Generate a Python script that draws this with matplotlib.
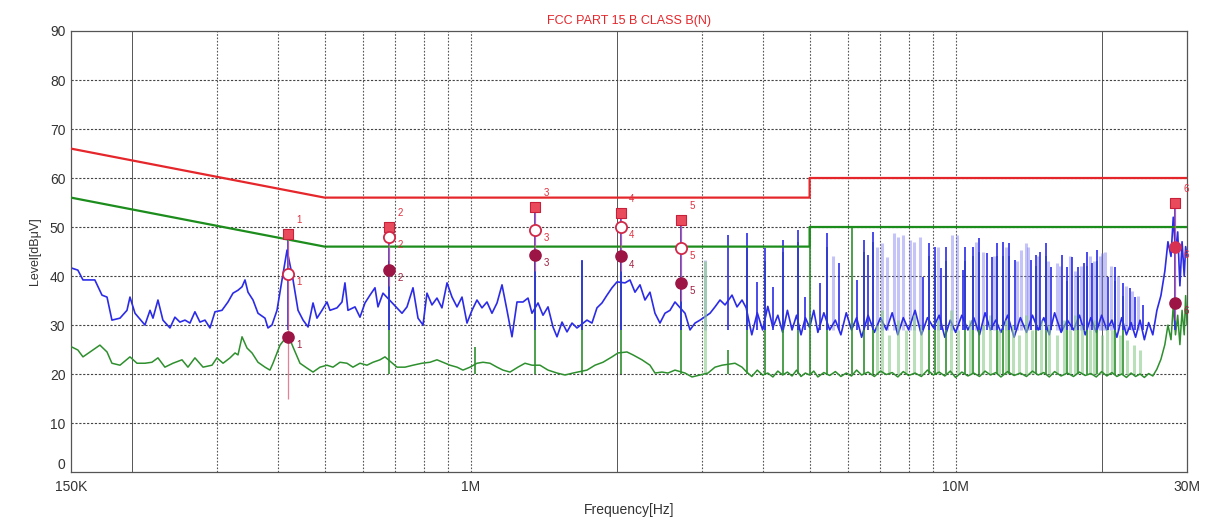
import matplotlib
matplotlib.use('Agg')
import matplotlib.pyplot as plt

plt.rcParams['font.family'] = ['Liberation Sans', 'DejaVu Sans']

# limit lines (MHz, dBuV)
qp_lim_f = [0.15, 0.5, 5.0, 5.0, 30.0]
qp_lim_v = [66, 56, 56, 60, 60]
av_lim_f = [0.15, 0.5, 5.0, 5.0, 30.0]
av_lim_v = [56, 46, 46, 50, 50]

# peak trace (blue)
peak_f = [0.1507, 0.155, 0.1588, 0.168, 0.1738, 0.178, 0.1822, 0.1893, 0.1957, 0.1985,
          0.2033, 0.2131, 0.2183, 0.2214, 0.2267, 0.2321, 0.24, 0.2457, 0.2516, 0.2577,
          0.2639, 0.2702, 0.2767, 0.2834, 0.2902, 0.2972, 0.3072, 0.3161, 0.3237, 0.3315,
          0.3379, 0.3427, 0.3476, 0.356, 0.3645, 0.3768, 0.3822, 0.3895, 0.3989, 0.4085,
          0.4184, 0.4305, 0.4408, 0.4515, 0.4623, 0.4733, 0.4823, 0.4939, 0.5057, 0.513,
          0.5304, 0.5431, 0.5508, 0.5587, 0.5777, 0.5915, 0.6057, 0.6203, 0.6352, 0.6443,
          0.6598, 0.7052, 0.7221, 0.7394, 0.7608, 0.7791, 0.7978, 0.813, 0.8325, 0.8525,
          0.8729, 0.8942, 0.9156, 0.9376, 0.9601, 0.9831, 1.0067, 1.0308, 1.0556, 1.0809,
          1.1068, 1.1337, 1.1609, 1.1887, 1.2172, 1.2465, 1.2826, 1.3134, 1.3384, 1.3773,
          1.4103, 1.4442, 1.4788, 1.5072, 1.5435, 1.5805, 1.6184, 1.6572, 1.7377, 1.7793,
          1.822, 1.8657, 1.911, 1.9569, 2.0038, 2.0815, 2.1314, 2.1825, 2.2349, 2.2885,
          2.3434, 2.3997, 2.4573, 2.5163, 2.5771, 2.639, 2.7675, 2.834, 2.902, 2.9718,
          3.1161, 3.191, 3.2675, 3.3467, 3.4595, 3.5426, 3.6275,
          3.7, 3.8, 3.9, 4.0, 4.1, 4.2, 4.3, 4.4, 4.5, 4.6,
          4.7, 4.8, 4.9, 5.0, 5.1, 5.2, 5.35, 5.5, 5.65, 5.8,
          5.95, 6.1, 6.25, 6.4, 6.6, 6.8, 7.0, 7.2, 7.4, 7.6,
          7.8, 8.0, 8.25, 8.5, 8.75, 9.0, 9.25, 9.5, 9.75, 10.0,
          10.3, 10.6, 10.9, 11.2, 11.5, 11.8, 12.1, 12.4, 12.8, 13.2,
          13.6, 14.0, 14.4, 14.8, 15.2, 15.6, 16.0, 16.5, 17.0, 17.5,
          18.0, 18.5, 19.0, 19.5, 20.0, 20.5, 21.0, 21.5, 22.0, 22.5,
          23.0, 23.5, 24.0, 24.5, 25.0, 25.5, 26.0, 26.5, 27.0, 27.4,
          27.8, 28.1, 28.4, 28.7, 29.0, 29.3, 29.6, 29.8, 30.0]
peak_v = [41.6, 41.2, 39.2, 39.2, 36.1, 35.7, 31.0, 31.4, 33.0, 35.7,
          32.4, 30.0, 33.0, 31.4, 35.1, 31.0, 29.4, 31.6, 30.6, 31.0,
          30.4, 32.7, 30.6, 31.0, 29.4, 32.7, 33.0, 34.7, 36.5, 37.1,
          37.8, 39.2, 36.7, 35.1, 32.4, 31.4, 29.4, 30.0, 33.0, 39.2,
          45.3, 39.2, 33.0, 31.0, 29.6, 34.5, 31.4, 33.0, 34.7, 33.0,
          33.5, 34.7, 38.6, 33.0, 33.7, 31.6, 34.5, 36.1, 37.6, 33.7,
          36.5, 33.5, 32.4, 33.7, 37.6, 31.4, 30.0, 36.5, 34.1, 35.5,
          33.5, 38.6, 35.7, 33.7, 35.7, 30.4, 33.0, 35.1, 33.5, 34.7,
          32.4, 34.5, 38.2, 33.0, 27.6, 34.7, 34.7, 35.5, 32.4, 34.5,
          32.0, 33.7, 29.6, 27.6, 30.6, 28.6, 30.4, 29.4, 31.0, 30.4,
          33.5, 34.5, 36.1, 37.6, 38.8, 38.6, 39.2, 36.7, 38.2, 35.1,
          36.7, 32.4, 30.4, 32.4, 33.0, 34.7, 32.4, 29.0, 30.4, 31.0,
          32.4, 33.7, 35.1, 34.1, 36.1, 33.7, 35.1,
          33.5, 28.0, 32.5, 29.0, 33.8, 29.5, 32.0, 28.5, 33.0, 29.0,
          32.0, 28.0, 31.5, 29.5, 33.0, 28.5, 32.5, 29.0, 31.0, 28.0,
          32.5, 29.0, 31.5, 27.5, 32.0, 28.5, 31.5, 29.0, 32.5, 28.0,
          31.5, 29.0, 33.0, 28.0, 31.5, 29.5, 32.0, 27.5, 31.0, 28.5,
          32.0, 29.0, 31.5, 28.0, 32.5, 29.0, 31.0, 28.5, 32.0, 27.5,
          31.5, 28.5, 32.0, 29.0, 31.5, 28.0, 32.5, 28.5, 31.0, 29.0,
          32.0, 28.0, 31.5, 28.5, 32.0, 29.0, 31.0, 27.5, 31.5, 28.0,
          30.5, 27.5, 31.0, 27.0, 30.5, 28.0, 33.0, 36.0, 41.0, 47.0,
          44.0, 52.0, 45.0, 49.0, 38.0, 47.0, 40.0, 46.0, 44.0]

# average trace (green)
avg_f = [0.1507, 0.155, 0.1588, 0.1665, 0.1721, 0.178, 0.1822, 0.1893, 0.1985, 0.2052,
         0.2131, 0.2203, 0.2267, 0.2343, 0.2434, 0.2541, 0.2614, 0.2702, 0.2808, 0.293,
         0.300, 0.3088, 0.3192, 0.3269, 0.3315, 0.3379, 0.346, 0.3543, 0.3645, 0.3768,
         0.3858, 0.3914, 0.3989, 0.4047, 0.4204, 0.4305, 0.4449, 0.4601, 0.4733, 0.4893,
         0.5057, 0.5204, 0.5379, 0.5561, 0.5721, 0.5915, 0.6115, 0.6292, 0.6504, 0.666,
         0.7052, 0.7325, 0.7608, 0.7939, 0.8247, 0.8525, 0.8772, 0.9068, 0.9376, 0.9645,
         0.9972, 1.0308, 1.0607, 1.0964, 1.1337, 1.1662, 1.2058, 1.252, 1.2948, 1.3384,
         1.3902, 1.4442, 1.5072, 1.5656, 1.6263, 1.7377, 1.805, 1.8747, 1.9569, 2.0132,
         2.101, 2.162, 2.256, 2.3434, 2.3997, 2.481, 2.552, 2.639, 2.7675, 2.861,
         2.9718, 3.0866, 3.191, 3.299, 3.509, 3.6275,
         3.7, 3.8, 3.9, 4.0, 4.1, 4.2, 4.3, 4.4, 4.5, 4.6,
         4.7, 4.8, 4.9, 5.0, 5.1, 5.2, 5.35, 5.5, 5.65, 5.8,
         5.95, 6.1, 6.25, 6.4, 6.6, 6.8, 7.0, 7.2, 7.4, 7.6,
         7.8, 8.0, 8.25, 8.5, 8.75, 9.0, 9.25, 9.5, 9.75, 10.0,
         10.3, 10.6, 10.9, 11.2, 11.5, 11.8, 12.1, 12.4, 12.8, 13.2,
         13.6, 14.0, 14.4, 14.8, 15.2, 15.6, 16.0, 16.5, 17.0, 17.5,
         18.0, 18.5, 19.0, 19.5, 20.0, 20.5, 21.0, 21.5, 22.0, 22.5,
         23.0, 23.5, 24.0, 24.5, 25.0, 25.5, 26.0, 26.5, 27.0, 27.4,
         27.8, 28.1, 28.4, 28.7, 29.0, 29.3, 29.6, 29.8, 30.0]
avg_v = [25.5, 24.9, 23.5, 24.9, 25.9, 24.5, 22.2, 21.8, 23.5, 22.2,
         22.2, 22.4, 23.3, 21.4, 22.2, 22.9, 21.4, 23.3, 21.4, 21.8,
         23.3, 22.2, 23.3, 24.3, 23.9, 27.6, 25.3, 24.3, 22.4, 21.4,
         20.8, 22.2, 24.3, 25.9, 28.0, 25.5, 22.2, 21.2, 20.4, 21.4,
         21.8, 21.4, 22.4, 22.2, 21.4, 22.2, 21.8, 22.4, 22.9, 23.5,
         21.4, 21.4, 21.8, 22.2, 22.4, 22.9, 22.4, 21.8, 21.4, 20.8,
         21.4, 22.2, 22.4, 22.2, 21.4, 20.8, 20.4, 21.4, 22.2, 21.8,
         21.8, 20.8, 20.2, 19.8, 20.2, 20.8, 21.8, 22.4, 23.5, 24.3,
         24.5, 23.9, 22.9, 21.8, 20.2, 20.4, 20.2, 20.8, 20.2, 19.4,
         19.8, 20.2, 21.4, 21.8, 22.2, 21.4,
         20.5, 19.5, 20.8, 19.8, 20.2, 19.4, 20.6, 19.8, 20.4, 19.6,
         20.8, 19.5, 20.2, 19.8, 20.6, 19.4, 20.3, 19.7, 20.5, 19.5,
         20.2, 19.6, 20.8, 19.8, 20.4, 19.5, 20.6, 19.9, 20.3, 19.4,
         20.5, 19.7, 20.2, 19.5, 20.8, 19.8, 20.4, 19.6, 20.6, 19.3,
         20.4, 19.6, 20.2, 19.5, 20.6, 19.8, 20.3, 19.4, 20.5, 19.7,
         20.2, 19.5, 20.6, 19.8, 20.3, 19.4, 20.5, 19.6, 20.2, 19.5,
         20.4, 19.7, 20.1, 19.4, 20.5, 19.6, 20.3, 19.5, 20.0, 19.3,
         20.2, 19.5, 20.0, 19.3, 20.1, 19.6, 21.0, 23.0, 26.0, 30.0,
         27.0, 34.0, 28.0, 32.0, 26.0, 33.0, 28.0, 36.0, 30.0]

# narrow spikes on the peak trace
pk_spike_f = [0.42, 0.679, 1.358, 1.697, 2.042, 2.715, 3.394, 3.71, 3.90, 4.05,
              4.20, 4.41, 4.73, 4.89, 5.25, 5.43, 5.75, 6.26, 6.47, 6.60,
              6.76, 8.57, 8.81, 9.07, 9.33, 9.55, 10.36, 10.46, 10.86, 11.18,
              11.61, 11.89, 12.17, 12.52, 12.89, 13.26, 14.31, 14.65, 14.93, 15.36,
              15.73, 16.57, 16.97, 17.38, 17.88, 18.40, 18.66, 19.11, 19.57, 20.62,
              21.31, 22.14, 22.89, 23.43, 24.35, 28.3]
pk_spike_v = [48.5, 50.0, 54.0, 43.3, 53.0, 51.5, 48.4, 48.8, 38.8, 45.7,
              37.8, 47.3, 49.4, 35.7, 38.6, 48.8, 42.7, 39.2, 47.3, 44.3,
              49.0, 39.8, 46.7, 45.9, 41.6, 45.9, 41.2, 45.9, 45.9, 47.8,
              44.7, 43.9, 46.7, 46.9, 46.7, 43.3, 43.3, 44.3, 44.9, 46.7,
              41.8, 44.3, 41.8, 43.9, 41.8, 42.7, 44.9, 42.7, 45.3, 39.8,
              41.8, 38.6, 37.6, 35.7, 34.1, 55.0]
pk_faint_f = [3.043, 5.6, 6.9, 7.05, 7.22, 7.46, 7.6, 7.79, 8.05, 8.2,
              8.45, 9.2, 9.83, 10.07, 11.0, 11.4, 12.0, 12.7, 13.4, 13.64,
              13.97, 14.1, 14.8, 15.5, 16.19, 16.4, 17.2, 17.6, 18.1, 18.9,
              19.3, 19.8, 20.04, 20.3, 20.9, 21.6, 22.4, 23.1, 23.8]
pk_faint_v = [43.3, 44.0, 46.0, 46.7, 43.9, 48.8, 48.0, 48.4, 47.3, 47.0,
              48.0, 46.0, 48.4, 48.4, 47.0, 45.0, 44.0, 46.0, 43.0, 45.3,
              46.7, 46.0, 44.0, 43.0, 42.7, 42.0, 44.0, 41.0, 42.0, 44.0,
              43.0, 44.0, 44.7, 45.0, 42.0, 40.0, 38.0, 37.0, 36.0]

# narrow spikes on the average trace
av_spike_f = [0.679, 1.02, 1.358, 1.697, 2.042, 2.715, 3.394, 3.71, 4.05, 4.41,
              4.73, 5.01, 5.43, 6.11, 6.47, 6.76, 8.81, 9.07, 9.55, 10.46,
              10.86, 11.18, 12.17, 12.52, 12.89, 14.65, 15.36, 16.97, 17.88, 18.66,
              19.57, 21.31, 22.14]
av_spike_v = [43.0, 25.5, 44.5, 43.0, 44.0, 39.5, 25.0, 46.0, 43.0, 45.0,
              47.0, 49.5, 46.0, 50.0, 45.0, 47.0, 44.0, 43.0, 43.0, 43.0,
              44.0, 45.0, 44.0, 44.0, 44.0, 42.0, 44.0, 39.0, 40.0, 42.0,
              43.0, 39.0, 36.0]
av_faint_f = [3.043, 6.9, 7.05, 7.3, 7.6, 7.9, 8.2, 8.5, 9.2, 9.8,
              10.1, 10.7, 11.4, 11.8, 12.3, 12.7, 13.1, 13.5, 14.0, 14.4,
              15.0, 15.6, 16.2, 16.7, 17.2, 17.6, 18.2, 18.9, 19.3, 20.0,
              20.5, 21.0, 21.8, 22.6, 23.3, 24.0]
av_faint_v = [43.0, 30, 33, 28, 31, 29, 32, 30, 31, 33,
              29, 31, 30, 32, 29, 31, 30, 28, 32, 29,
              31, 30, 28, 31, 29, 32, 30, 29, 31, 28,
              30, 29, 28, 27, 26, 25]

# final measurement markers
mk_f = [0.42, 0.679, 1.358, 2.042, 2.715, 28.3]
mk_peak = [48.5, 50.0, 54.0, 52.9, 51.4, 54.9]
mk_qp = [40.5, 48.0, 49.4, 50.0, 45.7, 46.0]
mk_av = [27.5, 41.2, 44.3, 44.0, 38.6, 34.5]
mk_line_low = [15.0, 38.0, 41.0, 41.0, 35.0, 31.0]
mk_labels = ['1', '2', '3', '4', '5', '6']

x_ticks = [0.15, 1, 10, 30]
x_ticklabels = ['150K', '1M', '10M', '30M']
grid_solid = [0.2, 2, 20]
grid_dot = [0.3, 0.4, 0.5, 0.6, 0.7, 0.8, 0.9, 1, 3, 4, 5, 6, 7, 8, 9, 10]

RED = '#e5262b'
GREEN_LIM = '#1c8c1c'
BLUE = '#2b2be8'
GREEN = '#2e8f2e'

fig = plt.figure(figsize=(12.13, 5.29), dpi=100)
ax = fig.add_axes([0.0585, 0.1077, 0.9201, 0.8337])
ax.set_xscale('log')
ax.set_xlim(0.15, 30)
ax.set_ylim(0, 90)

for g in grid_solid:
    ax.axvline(g, color='#555555', lw=0.7, zorder=0.5)
for g in grid_dot:
    ax.axvline(g, color='#555555', lw=0.8, ls=(0, (1.5, 1.5)), zorder=0.5)
for yv in range(10, 90, 10):
    ax.axhline(yv, color='#444444', lw=0.8, ls=(0, (2, 1.5)), zorder=0.5)

# peak
ax.vlines(pk_faint_f, 29, pk_faint_v, color='#7d7df0', lw=2.2, alpha=0.45, zorder=1)
ax.plot(peak_f, peak_v, color=BLUE, lw=1.2, zorder=2)
# average
ax.vlines(av_faint_f, 20, av_faint_v, color='#8ccc8c', lw=2.2, alpha=0.6, zorder=2.5)
ax.plot(avg_f, avg_v, color=GREEN, lw=1.1, zorder=3)
ax.vlines(av_spike_f, 20, av_spike_v, color=GREEN, lw=1.2, zorder=3)
ax.vlines(pk_spike_f, 29, pk_spike_v, color=BLUE, lw=1.2, zorder=4)

# limits
ax.plot(qp_lim_f, qp_lim_v, color=RED, lw=1.6, zorder=5)
ax.plot(av_lim_f, av_lim_v, color=GREEN_LIM, lw=1.6, zorder=5)

# markers
ax.vlines(mk_f, mk_line_low, mk_peak, color='#e06080', lw=0.9, alpha=0.8, zorder=5.5)
ax.scatter(mk_f, mk_peak, marker='s', s=50, color='#ea4b5c', edgecolors='#c8203a',
           linewidths=0.8, zorder=6)
ax.scatter(mk_f[:5], mk_qp[:5], marker='o', s=65, facecolors='white',
           edgecolors='#d02848', linewidths=1.3, zorder=6)
ax.scatter(mk_f[5:], mk_qp[5:], marker='o', s=65, color='#d83050', zorder=6)
ax.scatter(mk_f, mk_av, marker='o', s=65, color='#9c1545', zorder=6)
for f, p, q, a, lab in zip(mk_f, mk_peak, mk_qp, mk_av, mk_labels):
    ax.annotate(lab, (f, p), xytext=(6, 8), textcoords='offset points',
                color='#e03040', fontsize=7, zorder=7)
    ax.annotate(lab, (f, q), xytext=(6, -8), textcoords='offset points',
                color='#e03040', fontsize=7, zorder=7)
    ax.annotate(lab, (f, a), xytext=(6, -8), textcoords='offset points',
                color='#a02040', fontsize=7, zorder=7)

ax.set_xticks(x_ticks)
ax.set_xticklabels(x_ticklabels)
ax.xaxis.set_minor_locator(matplotlib.ticker.NullLocator())
ax.set_yticks(range(0, 91, 10))
ax.tick_params(length=0, labelsize=10, colors='#333333', pad=4)
ax.tick_params(axis='x', pad=6)
ax.get_yticklabels()[0].set_va('bottom')
for s in ax.spines.values():
    s.set_color('#555555')
    s.set_linewidth(0.9)

ax.set_title('FCC PART 15 B CLASS B(N)', color='#e5262b', fontsize=9, pad=5)
ax.set_xlabel('Frequency[Hz]', fontsize=10, color='#333333', labelpad=6)
ax.set_ylabel('Level[dB\u03bcV]', fontsize=9, color='#333333', labelpad=6)

fig.savefig('out.png', dpi=100)
